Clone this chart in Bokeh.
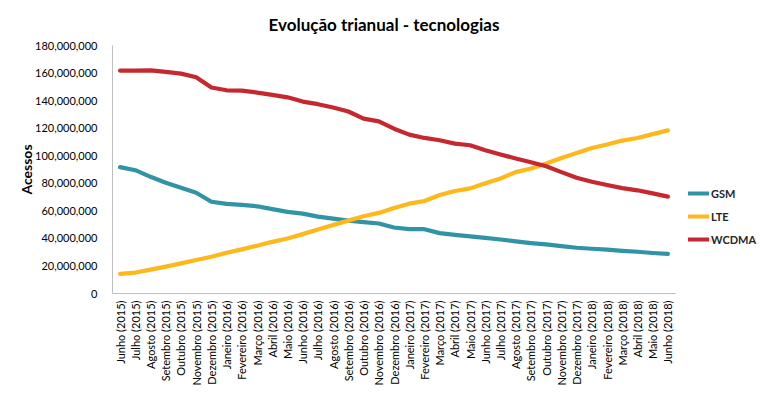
from bokeh.plotting import figure
from bokeh.models import Range1d, NumeralTickFormatter, Legend, LegendItem, SingleIntervalTicker, FixedTicker
from bokeh.embed import file_html
from bokeh.resources import INLINE
import math

months = [
    "Junho (2015)", "Julho (2015)", "Agosto (2015)", "Setembro (2015)", "Outubro (2015)",
    "Novembro (2015)", "Dezembro (2015)", "Janeiro (2016)", "Fevereiro (2016)", "Março (2016)",
    "Abril (2016)", "Maio (2016)", "Junho (2016)", "Julho (2016)", "Agosto (2016)",
    "Setembro (2016)", "Outubro (2016)", "Novembro (2016)", "Dezembro (2016)", "Janeiro (2017)",
    "Fevereiro (2017)", "Março (2017)", "Abril (2017)", "Maio (2017)", "Junho (2017)",
    "Julho (2017)", "Agosto (2017)", "Setembro (2017)", "Outubro (2017)", "Novembro (2017)",
    "Dezembro (2017)", "Janeiro (2018)", "Fevereiro (2018)", "Março (2018)", "Abril (2018)",
    "Maio (2018)", "Junho (2018)",
]

gsm = [
    91_700_000, 89_500_000, 84_700_000, 80_400_000, 76_700_000, 73_100_000, 66_600_000,
    65_000_000, 64_300_000, 63_300_000, 61_200_000, 59_200_000, 58_000_000, 55_800_000,
    54_400_000, 52_900_000, 51_800_000, 50_800_000, 47_900_000, 46_700_000, 46_700_000,
    43_800_000, 42_600_000, 41_400_000, 40_400_000, 39_200_000, 37_800_000, 36_600_000,
    35_600_000, 34_400_000, 33_200_000, 32_500_000, 31_800_000, 31_000_000, 30_300_000,
    29_400_000, 28_700_000,
]

lte = [
    14_200_000, 15_200_000, 17_300_000, 19_500_000, 21_900_000, 24_300_000, 26_700_000,
    29_600_000, 32_000_000, 34_700_000, 37_500_000, 39_900_000, 43_100_000, 46_400_000,
    49_800_000, 52_900_000, 56_100_000, 58_500_000, 62_000_000, 65_200_000, 67_100_000,
    71_500_000, 74_400_000, 76_300_000, 80_100_000, 83_500_000, 88_100_000, 90_700_000,
    94_400_000, 98_400_000, 102_000_000, 105_600_000, 108_100_000, 111_000_000, 112_900_000,
    115_700_000, 118_400_000,
]

wcdma = [
    161_700_000, 161_700_000, 162_000_000, 160_800_000, 159_600_000, 156_900_000, 149_500_000,
    147_500_000, 147_300_000, 145_800_000, 144_200_000, 142_400_000, 139_300_000, 137_400_000,
    135_000_000, 132_100_000, 126_900_000, 124_900_000, 119_600_000, 115_300_000, 112_900_000,
    111_200_000, 108_800_000, 107_600_000, 104_000_000, 100_900_000, 98_000_000, 95_300_000,
    92_400_000, 88_100_000, 84_000_000, 81_100_000, 78_700_000, 76_500_000, 74_900_000,
    72_700_000, 70_300_000,
]

series_names = ["GSM", "LTE", "WCDMA"]
series_colors = ["#3193A6", "#FFB81C", "#C5282E"]

FONT = "Lato"

# layout (pixels)
W, H = 760, 390
LEFT, PLOT_RIGHT, TOP, BOTTOM = 112, 675, 44, 293

n = len(months)
xpos = list(range(n))  # category slot of each month
band = (PLOT_RIGHT - LEFT) / n
x_end = -0.5 + (W - LEFT) / band  # frame extends right to hold the legend

p = figure(
    width=W, height=H,
    x_range=Range1d(-0.5, x_end),
    y_range=Range1d(0, 180_000_000),
    output_backend="svg", toolbar_location=None,
    min_border_left=LEFT, min_border_right=0, min_border_top=TOP, min_border_bottom=H - BOTTOM,
)
p.outline_line_color = None
p.background_fill_color = "white"
p.border_fill_color = "white"

p.title.text = "Evolução trianual - tecnologias"
p.title.text_font = FONT
p.title.text_font_size = "17px"
p.title.text_font_style = "bold"
p.title.text_color = "#000000"
p.title.align = "left"
p.title.offset = 156
p.title.standoff = 22

renderers = []
for name, vals, col in zip(series_names, [gsm, lte, wcdma], series_colors):
    r = p.line(xpos, vals, line_color=col, line_width=4.2,
               line_cap="round", line_join="round")
    renderers.append(r)

# y axis
yax = p.yaxis[0]
yax.ticker = SingleIntervalTicker(interval=20_000_000)
yax.formatter = NumeralTickFormatter(format="0,0")
yax.major_tick_line_color = None
yax.minor_tick_line_color = None
yax.major_tick_out = 0
yax.major_tick_in = 0
yax.major_label_standoff = 11
yax.major_label_text_font = FONT
yax.major_label_text_font_size = "11px"
yax.major_label_text_color = "#000000"
yax.axis_line_color = "#bfbfbf"
yax.axis_label = "Acessos"
yax.axis_label_text_font = FONT
yax.axis_label_text_font_size = "14px"
yax.axis_label_text_font_style = "bold"
yax.axis_label_text_color = "#000000"
yax.axis_label_standoff = -3

# x axis
xax = p.xaxis[0]
xax.ticker = FixedTicker(ticks=xpos, minor_ticks=[])
xax.major_label_overrides = {i: m for i, m in zip(xpos, months)}
xax.bounds = (-0.5, n - 0.5)
xax.major_label_orientation = math.pi / 2
xax.major_tick_line_color = None
xax.minor_tick_line_color = None
xax.major_tick_out = 0
xax.major_tick_in = 0
xax.major_label_standoff = 7
xax.major_label_text_font = FONT
xax.major_label_text_font_size = "11px"
xax.major_label_text_color = "#000000"
xax.axis_line_color = "#bfbfbf"

p.xgrid.grid_line_color = None
p.ygrid.grid_line_color = "#c4c4c4"
p.ygrid.grid_line_width = 1
p.ygrid.bounds = (-0.5, n - 0.5)

legend = Legend(
    items=[LegendItem(label=nm, renderers=[r]) for nm, r in zip(series_names, renderers)],
    location=(576, 44),
    border_line_color=None,
    background_fill_alpha=0,
    padding=0, margin=0, spacing=3,
    glyph_width=21, glyph_height=20, label_height=20,
    label_standoff=2,
    label_text_font=FONT, label_text_font_size="11px", label_text_font_style="bold",
    label_text_color="#262626",
)
p.add_layout(legend)

open("out.html", "w").write(file_html(p, INLINE))
